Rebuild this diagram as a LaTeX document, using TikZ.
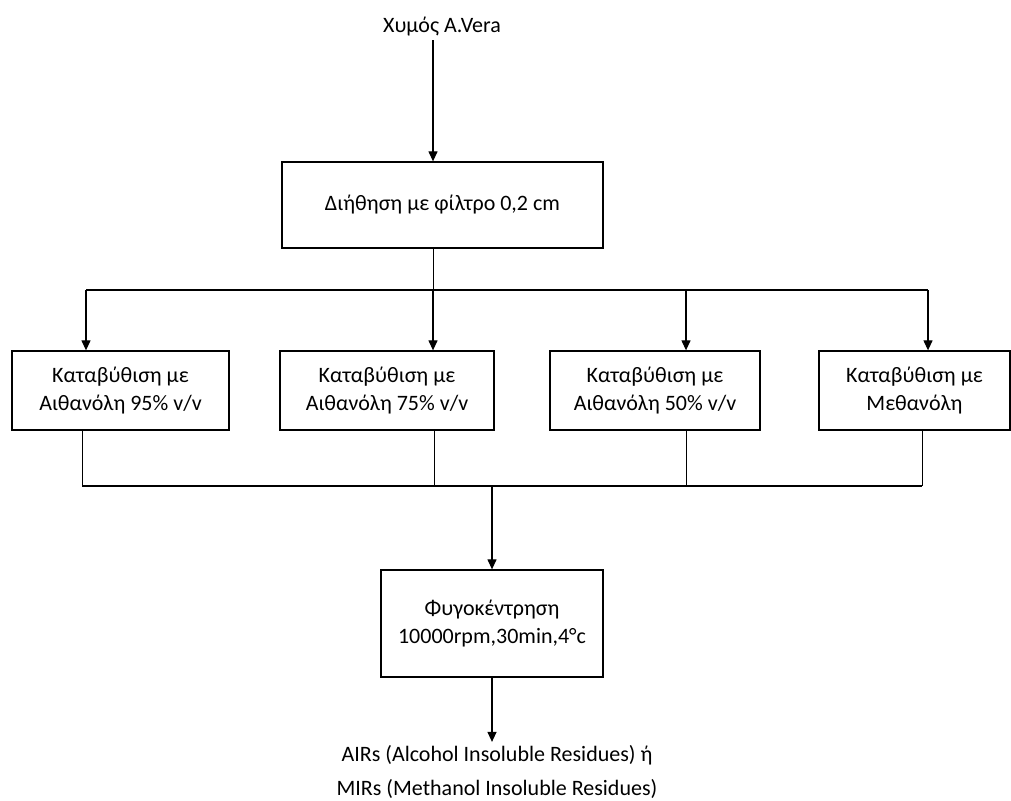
\documentclass[tikz,border=0pt]{standalone}
\usepackage{fontspec}
\setmainfont{Carlito}
\usetikzlibrary{arrows.meta}
\begin{document}
\begin{tikzpicture}[x=1pt,y=-1pt,
  font=\fontsize{22}{28}\selectfont,
  box/.style={draw,line width=1.3pt,align=center,inner sep=0pt},
  arr/.style={line width=1.2pt,-{Triangle[length=10pt,width=9pt]}},
  bus/.style={line width=1.4pt},
  thin/.style={line width=0.8pt}]
\useasboundingbox (0,0) rectangle (1011,800);
% spine columns
\coordinate (sx) at (433,0);
\coordinate (c1) at (86,0);
\coordinate (c2) at (433,0);
\coordinate (c3) at (686,0);
\coordinate (c4) at (928,0);
\coordinate (d1) at (82,0);
\coordinate (d2) at (434,0);
\coordinate (d3) at (686,0);
\coordinate (d4) at (922,0);
\coordinate (m) at (492,0);
% nodes
\node (title) at (442,27) {Χυμός A.Vera};
\node[box,minimum width=321pt,minimum height=86pt] (filt) at (442.5,205) {Διήθηση με φίλτρο 0,2 cm};
\node[box,minimum width=217pt,minimum height=79pt] (b1) at (120.5,390.5) {Καταβύθιση με\\Αιθανόλη 95\% v/v};
\node[box,minimum width=214pt,minimum height=79pt] (b2) at (387,390.5) {Καταβύθιση με\\Αιθανόλη 75\% v/v};
\node[box,minimum width=210pt,minimum height=79pt] (b3) at (655,390.5) {Καταβύθιση με\\Αιθανόλη 50\% v/v};
\node[box,minimum width=191pt,minimum height=79pt] (b4) at (914.5,390.5) {Καταβύθιση με\\Μεθανόλη};
\node[box,minimum width=222pt,minimum height=107pt] (cent) at (492,623.5) {Φυγοκέντρηση\\10000rpm,30min,4°c};
\node[align=center,font=\fontsize{22}{34}\selectfont] (res) at (497,772) {AIRs (Alcohol Insoluble Residues) ή\\MIRs (Methanol Insoluble Residues)};
\coordinate (split) at (433,290);
\coordinate (join) at (490,486);
% connectors
\draw[arr] (title.south -| sx) -- (filt.north -| sx);
\draw[thin] (filt.south -| sx) -- (split);
\draw[bus] (split -| c1) -- (split -| c4);
\draw[arr] (split -| c1) -- (b1.north -| c1);
\draw[arr] (split -| c2) -- (b2.north -| c2);
\draw[arr] (split -| c3) -- (b3.north -| c3);
\draw[arr] (split -| c4) -- (b4.north -| c4);
\draw[thin] (b1.south -| d1) -- (join -| d1);
\draw[thin] (b2.south -| d2) -- (join -| d2);
\draw[thin] (b3.south -| d3) -- (join -| d3);
\draw[thin] (b4.south -| d4) -- (join -| d4);
\draw[bus] (join -| d1) -- (join -| d4);
\draw[arr] (join -| m) -- (cent.north -| m);
\draw[arr] (cent.south -| m) -- (res.north -| m);
\end{tikzpicture}
\end{document}
